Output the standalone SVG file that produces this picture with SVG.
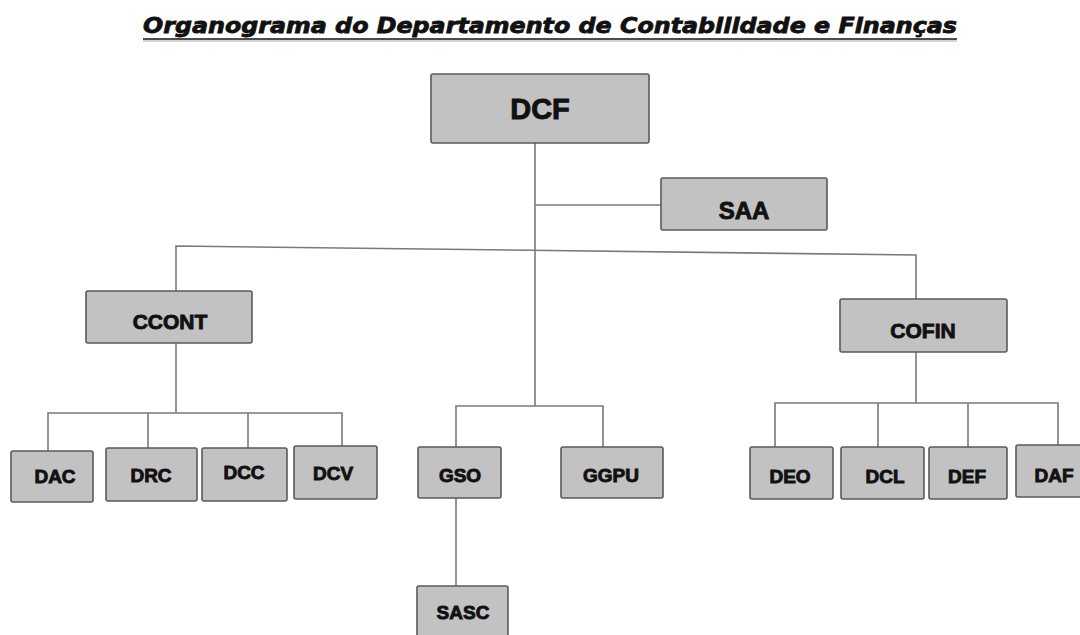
<svg xmlns="http://www.w3.org/2000/svg" width="1080" height="635" viewBox="0 0 1080 635">
<style>
.box{fill:#c2c2c2;stroke:#5a5a5a;stroke-width:1.6}
.lbl{font-family:"Liberation Sans",Arial,sans-serif;font-weight:bold;fill:#111;stroke:#111;stroke-width:0.9;text-anchor:middle}
.s{font-size:19px}
.m{font-size:21px}
.conn line,.conn polyline{stroke:#7a7a7a;stroke-width:1.6;fill:none}
.title{font-family:"DejaVu Sans","Liberation Sans",sans-serif;font-weight:bold;font-style:italic;font-size:21px;fill:#111;stroke:#111;stroke-width:0.8}
</style>
<rect width="1080" height="635" fill="#ffffff"/>
<g id="title">
<text class="title" x="143" y="33" textLength="814" lengthAdjust="spacingAndGlyphs">Organograma do Departamento de Contabilidade e Finanças</text>
<line x1="143" y1="39" x2="957" y2="39" stroke="#111" stroke-width="1.6"/>
<line x1="143" y1="41" x2="957" y2="41" stroke="#aaa" stroke-width="1.2"/>
</g>
<g class="conn" id="connectors">
<line x1="535" y1="143" x2="535" y2="406"/>
<line x1="535" y1="205" x2="661" y2="205"/>
<polyline points="176,291 176,246 916,255 916,299"/>
<line x1="176" y1="343" x2="176" y2="413"/>
<polyline points="48,451 48,413 342,413 342,446"/>
<line x1="148" y1="413" x2="148" y2="448"/>
<line x1="248" y1="413" x2="248" y2="448"/>
<line x1="916" y1="352" x2="916" y2="403"/>
<polyline points="775,447 775,403 1058,403 1058,445"/>
<line x1="878" y1="403" x2="878" y2="447"/>
<line x1="968" y1="403" x2="968" y2="447"/>
<polyline points="456,447 456,406 603,406 603,447"/>
<line x1="456" y1="498" x2="456" y2="586"/>
</g>
<g id="DCF"><rect class="box" x="431" y="74" width="218" height="69" rx="2"/><text class="lbl" x="540" y="119" font-size="29">DCF</text></g>
<g id="SAA"><rect class="box" x="661" y="178" width="166" height="52" rx="2"/><text class="lbl" x="744" y="219" font-size="24">SAA</text></g>
<g id="CCONT"><rect class="box" x="86" y="291" width="166" height="52" rx="2"/><text class="lbl m" x="170" y="329">CCONT</text></g>
<g id="COFIN"><rect class="box" x="840" y="299" width="167" height="53" rx="2"/><text class="lbl m" x="923" y="338">COFIN</text></g>
<g id="DAC"><rect class="box" x="11" y="451" width="82" height="51" rx="2"/><text class="lbl s" x="55" y="483">DAC</text></g>
<g id="DRC"><rect class="box" x="106" y="448" width="91" height="53" rx="2"/><text class="lbl s" x="151" y="482">DRC</text></g>
<g id="DCC"><rect class="box" x="202" y="448" width="85" height="53" rx="2"/><text class="lbl s" x="244" y="479">DCC</text></g>
<g id="DCV"><rect class="box" x="294" y="446" width="83" height="53" rx="2"/><text class="lbl s" x="333" y="480">DCV</text></g>
<g id="GSO"><rect class="box" x="418" y="447" width="83" height="51" rx="2"/><text class="lbl s" x="460" y="482">GSO</text></g>
<g id="GGPU"><rect class="box" x="561" y="447" width="102" height="51" rx="2"/><text class="lbl s" x="611" y="482">GGPU</text></g>
<g id="SASC"><rect class="box" x="417" y="586" width="91" height="60" rx="2"/><text class="lbl s" x="463" y="619">SASC</text></g>
<g id="DEO"><rect class="box" x="750" y="447" width="83" height="52" rx="2"/><text class="lbl s" x="790" y="483">DEO</text></g>
<g id="DCL"><rect class="box" x="841" y="447" width="83" height="52" rx="2"/><text class="lbl s" x="885" y="483">DCL</text></g>
<g id="DEF"><rect class="box" x="929" y="447" width="78" height="52" rx="2"/><text class="lbl s" x="967" y="483">DEF</text></g>
<g id="DAF"><rect class="box" x="1016" y="445" width="80" height="52" rx="2"/><text class="lbl s" x="1054" y="482">DAF</text></g>
</svg>
